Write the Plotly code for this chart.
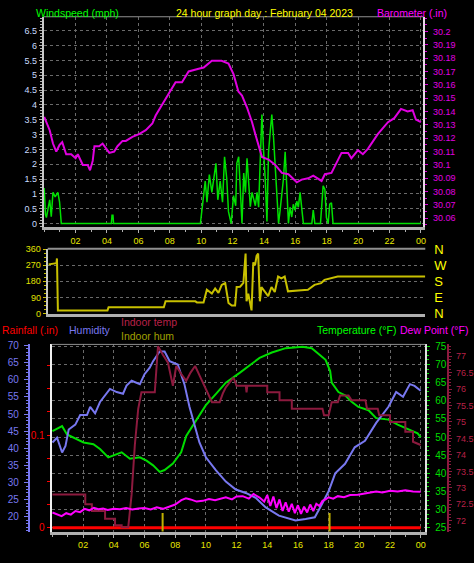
import plotly.graph_objects as go

W, H = 474, 563
def fx(X):
    return X / W
def fy(Y):
    return 1 - Y / H

FONT = "Liberation Sans, Arial, sans-serif"

# ---------------- data ----------------
hour_ticks = [2, 4, 6, 8, 10, 12, 14, 16, 18, 20, 22, 24]
hour_labels = ["02", "04", "06", "08", "10", "12", "14", "16", "18", "20", "22", "00"]

wind_ticks = [0, 0.5, 1, 1.5, 2, 2.5, 3, 3.5, 4, 4.5, 5, 5.5, 6, 6.5]
wind_labels = ["0", "0.5", "1", "1.5", "2", "2.5", "3", "3.5", "4", "4.5", "5", "5.5", "6", "6.5"]
baro_ticks = [30.06, 30.07, 30.08, 30.09, 30.10, 30.11, 30.12, 30.13, 30.14, 30.15,
              30.16, 30.17, 30.18, 30.19, 30.20]
baro_labels = ["30.06", "30.07", "30.08", "30.09", "30.1", "30.11", "30.12", "30.13", "30.14",
               "30.15", "30.16", "30.17", "30.18", "30.19", "30.2"]
dir_ticks = [0, 90, 180, 270, 360]
dir_labels = ["N", "E", "S", "W", "N"]
hum_ticks = [20, 25, 30, 35, 40, 45, 50, 55, 60, 65, 70]
temp_ticks = [25, 30, 35, 40, 45, 50, 55, 60, 65, 70, 75]
indoor_ticks = [72, 72.5, 73, 73.5, 74, 74.5, 75, 75.5, 76, 76.5, 77]
indoor_labels = ["72", "72.5", "73", "73.5", "74", "74.5", "75", "75.5", "76", "76.5", "77"]
rain_ticks = [0, 0.1, 0.2]

baro_hours = [0.0, 0.35, 0.56, 0.77, 0.98, 1.15, 1.4, 1.72, 2.0, 2.14,
              2.46, 2.77, 2.92, 3.09, 3.2, 3.5, 3.72, 3.94, 4.15, 4.46,
              4.67, 4.99, 5.2, 5.62, 6.04, 6.47, 6.89, 7.1, 7.52, 7.94,
              8.37, 8.78, 9.2, 9.84, 10.16, 10.68, 11.0, 11.3, 11.74, 12.06,
              12.37, 12.6, 12.92, 13.24, 13.45, 13.87, 14.29, 14.72, 15.14, 15.56,
              16.09, 16.4, 16.82, 17.14, 17.67, 17.88, 18.3, 18.94, 19.36, 19.57,
              19.99, 20.3, 20.62, 21.25, 21.9, 22.3, 22.73, 23.15, 23.47, 23.68,
              24.0]
baro_inhg = [30.136, 30.126, 30.116, 30.110, 30.115, 30.117, 30.108, 30.108, 30.105, 30.108,
             30.100, 30.100, 30.096, 30.103, 30.114, 30.114, 30.116, 30.112, 30.109, 30.110,
             30.114, 30.118, 30.118, 30.121, 30.123, 30.126, 30.131, 30.137, 30.145, 30.153,
             30.162, 30.162, 30.170, 30.172, 30.173, 30.178, 30.178, 30.178, 30.176, 30.168,
             30.155, 30.152, 30.143, 30.132, 30.123, 30.106, 30.104, 30.100, 30.094, 30.093,
             30.087, 30.089, 30.090, 30.092, 30.088, 30.093, 30.094, 30.109, 30.109, 30.105,
             30.111, 30.108, 30.112, 30.123, 30.132, 30.135, 30.142, 30.140, 30.141, 30.134,
             30.132]

wind_hours = [0.0, 0.08, 0.14, 0.24, 0.35, 0.45, 0.56, 0.7, 0.87, 0.98,
              1.09, 4.28, 4.32, 4.38, 4.42, 9.95, 10.16, 10.26, 10.37, 10.52,
              10.68, 10.79, 10.94, 11.06, 11.21, 11.36, 11.49, 11.63, 11.74, 11.91,
              12.06, 12.2, 12.27, 12.39, 12.5, 12.6, 12.71, 12.82, 12.92, 13.03,
              13.13, 13.24, 13.34, 13.45, 13.56, 13.66, 13.77, 13.87, 13.98, 14.08,
              14.19, 14.29, 14.4, 14.5, 14.61, 14.72, 14.82, 14.93, 15.03, 15.14,
              15.24, 15.35, 15.46, 15.56, 15.66, 15.77, 15.87, 15.98, 16.09, 16.19,
              16.3, 16.4, 16.51, 17.05, 17.14, 17.24, 17.6, 17.66, 17.77, 17.88,
              17.98, 18.09, 18.19, 18.3, 18.4, 24.0]
wind_mph = [1.2, 0.3, 0.2, 0.45, 0.8, 0.23, 1.05, 0.9, 1.05, 0.72,
            0.0, 0.0, 0.28, 0.28, 0.0, 0.0, 0.94, 1.43, 0.72, 1.65,
            1.05, 1.5, 2.03, 0.8, 1.43, 0.72, 2.25, 1.5, 0.4, 0.0,
            0.94, 0.6, 2.03, 2.25, 1.05, 0.0, 1.7, 1.05, 2.2, 1.5,
            0.57, 1.05, 0.85, 0.6, 1.05, 0.55, 2.25, 3.67, 2.4, 1.5,
            0.07, 2.4, 3.1, 3.67, 2.9, 1.8, 1.2, 0.0, 0.45, 0.97,
            1.5, 2.42, 1.2, 0.0, 0.55, 0.22, 0.65, 0.45, 0.75, 0.55,
            1.05, 0.45, 0.0, 0.0, 0.45, 0.0, 0.0, 0.45, 1.27, 1.15,
            0.2, 0.0, 0.65, 0.7, 0.0, 0.0]

dir_hours = [0.0, 0.38, 0.5, 0.53, 0.59, 3.75, 3.82, 7.34, 7.45, 9.35,
             9.45, 9.87, 10.08, 10.4, 10.61, 10.82, 11.03, 11.25, 11.46, 11.67,
             11.88, 11.98, 12.2, 12.41, 12.55, 12.61, 12.72, 12.93, 13.04, 13.15,
             13.25, 13.35, 13.46, 13.56, 13.78, 13.99, 14.2, 14.41, 14.62, 14.83,
             15.04, 15.25, 16.1, 16.52, 16.94, 17.36, 17.58, 17.99, 18.42, 24.0]
dir_deg = [275, 280, 282, 308, 17, 17, 35, 35, 68, 68,
           62, 62, 133, 111, 140, 115, 160, 170, 59, 44,
           44, 148, 150, 171, 336, 68, 110, 17, 286, 270,
           322, 336, 68, 148, 120, 97, 148, 120, 207, 197,
           207, 124, 130, 133, 160, 170, 188, 197, 207, 207]

hum_hours = [0.0, 0.3, 0.63, 0.85, 1.06, 1.49, 1.81, 2.25, 2.46, 2.78,
             3.1, 3.43, 3.75, 4.19, 4.6, 4.83, 5.16, 5.7, 6.0, 6.34,
             6.56, 6.99, 7.31, 7.64, 8.17, 8.6, 8.93, 9.58, 10.0, 10.66,
             11.3, 11.95, 12.6, 13.25, 13.9, 14.76, 15.84, 16.5, 17.1, 17.56,
             18.0, 18.43, 19.07, 19.7, 20.37, 21.1, 21.9, 22.4, 22.85, 23.3,
             23.6, 24.0]
hum_pct = [41.7, 43.1, 38.8, 40.7, 45.5, 46.9, 49.7, 49.7, 52.1, 50.2,
           53.5, 55.4, 57.3, 56.4, 55.9, 58.3, 59.7, 58.7, 61.6, 63.5,
           65.4, 68.2, 68.2, 65.4, 64.4, 58.7, 52.1, 41.7, 37.4, 33.6,
           30.3, 28.0, 27.0, 25.6, 22.8, 20.4, 19.0, 19.4, 19.9, 23.7,
           27.5, 32.7, 35.5, 40.3, 42.2, 47.4, 52.1, 56.4, 55.0, 58.7,
           58.2, 56.8]

temp_hours = [0.0, 0.63, 0.95, 1.6, 2.03, 2.67, 3.1, 3.64, 4.19, 4.51,
              5.05, 5.7, 6.13, 6.56, 6.99, 7.31, 7.85, 8.39, 8.72, 9.37,
              10.0, 10.66, 11.3, 12.2, 13.5, 14.3, 15.2, 16.3, 16.9, 17.8,
              18.1, 18.2, 18.64, 19.07, 19.5, 19.94, 20.6, 21.1, 21.9, 22.5,
              23.2, 23.8, 24.0]
temp_f = [51.6, 53.0, 50.7, 49.4, 48.5, 48.0, 46.7, 44.4, 45.3, 45.8,
          44.0, 44.4, 43.5, 42.2, 40.4, 40.9, 42.7, 45.8, 50.3, 54.8,
          58.8, 61.9, 65.0, 67.7, 71.8, 73.3, 74.5, 74.9, 74.5, 71.3,
          68.2, 65.0, 62.4, 61.5, 59.7, 58.3, 57.4, 55.2, 54.8, 53.4,
          52.1, 51.0, 50.0]

dew_hours = [0.0, 0.3, 0.6, 0.9, 1.2, 1.5, 1.8, 2.1, 2.4, 2.7,
             3.0, 3.3, 3.6, 4.0, 4.4, 4.8, 5.2, 5.6, 6.0, 6.4,
             6.8, 7.2, 7.6, 8.0, 8.4, 8.7, 9.0, 9.4, 9.8, 10.2,
             10.6, 10.9, 11.3, 11.7, 12.0, 12.4, 12.8, 13.1, 13.5, 13.8,
             14.0, 14.2, 14.4, 14.6, 14.8, 15.0, 15.2, 15.4, 15.6, 15.8,
             16.0, 16.2, 16.4, 16.6, 16.8, 17.0, 17.2, 17.4, 17.6, 17.8,
             18.0, 18.3, 18.6, 19.0, 19.4, 19.9, 20.3, 20.8, 21.1, 21.5,
             22.0, 22.5, 23.0, 23.5, 24.0]
dew_f = [29.2, 28.6, 28.2, 29.0, 28.6, 29.6, 29.3, 30.2, 29.8, 30.5,
         30.1, 30.3, 29.9, 30.2, 30.1, 30.4, 30.0, 30.3, 30.4, 30.0,
         30.6, 30.2, 30.8, 31.4, 32.6, 33.1, 32.8, 32.2, 32.4, 32.9,
         32.6, 33.0, 33.4, 32.8, 33.6, 33.7, 33.0, 34.3, 33.3, 32.2,
         34.0, 31.0, 33.6, 30.4, 32.8, 29.6, 32.0, 29.4, 31.6, 29.0,
         31.2, 28.8, 30.8, 29.2, 31.4, 29.6, 31.6, 31.0, 32.4, 32.8,
         33.4, 33.0, 33.7, 33.4, 34.0, 34.1, 34.4, 34.6, 35.0, 34.7,
         35.2, 35.0, 35.3, 35.0, 34.9]

indoor_hours = [0.0, 2.14, 2.14, 2.57, 2.57, 3.43, 3.43, 4.08, 4.08, 4.51,
                4.51, 4.94, 5.16, 5.37, 5.59, 5.8, 6.67, 6.88, 7.2, 7.53,
                7.85, 8.07, 8.4, 8.72, 9.0, 9.3, 9.6, 10.2, 10.4, 10.9,
                11.1, 11.3, 11.6, 11.8, 12.0, 12.6, 12.65, 12.7, 14.0, 14.0,
                14.8, 14.8, 15.6, 15.6, 17.6, 17.7, 18.0, 18.2, 18.6, 18.75,
                19.3, 19.5, 20.4, 20.5, 21.2, 21.3, 22.0, 22.0, 23.0, 23.0,
                23.5, 23.5, 24.0]
indoor_f = [72.8, 72.8, 72.5, 72.5, 72.3, 72.3, 72.06, 72.06, 71.86, 71.86,
            71.8, 71.8, 72.8, 74.3, 75.4, 75.9, 75.9, 77.3, 77.04, 76.8,
            76.1, 76.7, 76.45, 76.25, 76.5, 76.7, 76.4, 75.76, 75.6, 75.6,
            75.86, 76.05, 76.25, 76.35, 76.1, 76.1, 75.9, 76.1, 76.1, 75.9,
            75.9, 75.66, 75.66, 75.4, 75.4, 75.2, 75.2, 75.6, 75.6, 75.8,
            75.8, 75.66, 75.66, 75.4, 75.4, 75.2, 75.2, 75.0, 75.0, 74.7,
            74.7, 74.4, 74.3]

rain_hours = [0.0, 24.0]
rain_in = [0.0, 0.0]

sun_events = [7.18, 18.06]  # sunrise / sunset markers (hours)

# ---------------- colours ----------------
C_WIND = "#00e000"
C_BARO = "#e000e0"
C_YEL = "#ffff00"
C_DIR = "#c8c000"
C_HUM = "#7878f0"
C_IN = "#8c1a3e"
C_INTXT = "#b82048"
C_INHUM = "#a0a000"
C_TEMP = "#00dd00"
C_DEW = "#ff00ff"
C_RAIN = "#ff0000"
C_GRID = "#6a6a6a"
C_AX = "#b0b0b0"

fig = go.Figure()

# top panel
fig.add_trace(go.Scatter(x=baro_hours, y=baro_inhg, xaxis="x", yaxis="y2", mode="lines",
                         line=dict(color=C_BARO, width=2)))
fig.add_trace(go.Scatter(x=wind_hours, y=wind_mph, xaxis="x", yaxis="y", mode="lines",
                         line=dict(color=C_WIND, width=1.5)))
# middle panel
fig.add_trace(go.Scatter(x=dir_hours, y=dir_deg, xaxis="x2", yaxis="y3", mode="lines",
                         line=dict(color=C_DIR, width=2)))
fig.add_trace(go.Scatter(x=dir_hours, y=dir_deg, xaxis="x2", yaxis="y4", mode="lines",
                         line=dict(color=C_DIR, width=0), opacity=0, hoverinfo="skip"))
# bottom panel
fig.add_trace(go.Scatter(x=temp_hours, y=temp_f, xaxis="x3", yaxis="y5", mode="lines",
                         line=dict(color=C_TEMP, width=2)))
fig.add_trace(go.Scatter(x=hum_hours, y=hum_pct, xaxis="x3", yaxis="y6", mode="lines",
                         line=dict(color=C_HUM, width=2)))
fig.add_trace(go.Scatter(x=rain_hours, y=rain_in, xaxis="x3", yaxis="y7", mode="lines",
                         line=dict(color=C_RAIN, width=3)))
fig.add_trace(go.Scatter(x=indoor_hours, y=indoor_f, xaxis="x3", yaxis="y8", mode="lines",
                         line=dict(color=C_IN, width=2)))
fig.add_trace(go.Scatter(x=dew_hours, y=dew_f, xaxis="x3", yaxis="y9", mode="lines",
                         line=dict(color=C_DEW, width=2)))

tickf = lambda c, s=9: dict(family=FONT, size=s, color=c)

x_common = dict(tickmode="array", tickvals=hour_ticks, ticktext=hour_labels,
                tickfont=tickf("#e8e800"), ticks="outside", ticklen=3, tickcolor=C_AX,
                showline=True, linecolor=C_AX, linewidth=3, zeroline=False,
                minor=dict(tickmode="linear", tick0=0, dtick=1, ticks="outside",
                           ticklen=2, tickcolor=C_AX, showgrid=False))

temp_lo, temp_hi = 23.92, 75.54

fig.update_layout(
    width=W, height=H, autosize=False,
    margin=dict(l=0, r=0, t=0, b=0),
    paper_bgcolor="black", plot_bgcolor="black",
    showlegend=False, hovermode=False,
    font=dict(family=FONT, color="white"),
    xaxis=dict(domain=[fx(44), fx(426)], anchor="y", range=[-0.03, 24.15],
               showgrid=True, gridcolor=C_GRID, griddash="dot", gridwidth=1, **x_common),
    yaxis=dict(domain=[fy(226), fy(10)], anchor="x", range=[-0.13, 6.97],
               tickmode="array", tickvals=wind_ticks, ticktext=wind_labels,
               tickfont=tickf("#c8dcff"), ticks="outside", ticklen=3, tickcolor=C_AX,
               showline=True, linecolor="#c8c8c8", linewidth=2, zeroline=False,
               showgrid=True, gridcolor=C_GRID, griddash="dot", gridwidth=1,
               minor=dict(tickmode="linear", tick0=0, dtick=0.1, ticks="outside",
                          ticklen=2, tickcolor=C_AX, showgrid=False)),
    yaxis2=dict(overlaying="y", side="right", anchor="x", range=[30.0532, 30.211],
                tickmode="array", tickvals=baro_ticks, ticktext=baro_labels,
                tickfont=tickf(C_BARO), ticks="outside", ticklen=3, tickcolor=C_BARO,
                showline=True, linecolor="#e8d8e8", linewidth=2, showgrid=False,
                zeroline=False, ticklabelstandoff=3,
                minor=dict(tickmode="linear", tick0=30.0, dtick=0.005, ticks="outside",
                           ticklen=2, tickcolor=C_BARO, showgrid=False)),
    xaxis2=dict(domain=[fx(48), fx(428)], anchor="y3", range=[-0.06, 24.0],
                showticklabels=False, ticks="", showgrid=False, zeroline=False,
                showline=True, linecolor=C_AX, linewidth=3),
    yaxis3=dict(domain=[fy(315), fy(248)], anchor="x2", range=[-4, 362],
                tickmode="array", tickvals=dir_ticks,
                tickfont=tickf("#e0e000"), ticks="outside", ticklen=3, tickcolor="#c8c000",
                showline=True, linecolor="#c8c8c8", linewidth=2, zeroline=False,
                showgrid=True, gridcolor=C_GRID, griddash="dot", gridwidth=1,
                minor=dict(tickmode="linear", tick0=0, dtick=22.5, ticks="outside",
                           ticklen=2, tickcolor="#c8c000", showgrid=False)),
    yaxis4=dict(overlaying="y3", side="right", anchor="free", position=fx(436),
                range=[-4, 362], tickmode="array", tickvals=dir_ticks, ticktext=dir_labels,
                tickfont=tickf(C_YEL, 13), ticks="", showline=False, showgrid=False,
                zeroline=False),
    xaxis3=dict(domain=[fx(52), fx(428)], anchor="y5", range=[-0.05, 24.3],
                showgrid=True, gridcolor=C_GRID, griddash="dot", gridwidth=1, **x_common),
    yaxis5=dict(domain=[fy(538), fy(346)], anchor="x3", side="right",
                range=[temp_lo, temp_hi], tickmode="array", tickvals=temp_ticks,
                tickfont=tickf(C_TEMP, 10), ticks="outside", ticklen=3, tickcolor=C_TEMP,
                showline=True, linecolor="#e0e0e0", linewidth=2, zeroline=False,
                showgrid=True, gridcolor=C_GRID, griddash="dot", gridwidth=1,
                ticklabelstandoff=3,
                minor=dict(tickmode="linear", tick0=0, dtick=1.25, ticks="outside",
                           ticklen=2, tickcolor=C_TEMP, showgrid=False)),
    yaxis6=dict(overlaying="y5", side="left", anchor="free", position=fx(29),
                range=[15.74, 70.28], tickmode="array", tickvals=hum_ticks,
                tickfont=tickf(C_HUM, 10), ticks="outside", ticklen=4, tickcolor=C_HUM,
                showline=True, linecolor=C_HUM, linewidth=2, showgrid=False,
                zeroline=False, ticklabelstandoff=3,
                minor=dict(tickmode="linear", tick0=0, dtick=1, ticks="outside",
                           ticklen=2, tickcolor=C_HUM, showgrid=False)),
    yaxis7=dict(overlaying="y5", side="left", anchor="x3", range=[-0.0042, 0.1979],
                tickmode="array", tickvals=rain_ticks, tickfont=tickf(C_RAIN, 10),
                ticks="outside", ticklen=3, tickcolor=C_RAIN,
                showline=True, linecolor="#f0f0f0", linewidth=2, showgrid=False,
                zeroline=False,
                minor=dict(tickmode="linear", tick0=0, dtick=0.025, ticks="outside",
                           ticklen=3, tickcolor=C_RAIN, showgrid=False)),
    yaxis8=dict(overlaying="y5", side="right", anchor="free", position=fx(451),
                range=[71.67, 77.355], tickmode="array", tickvals=indoor_ticks,
                ticktext=indoor_labels, tickfont=tickf(C_INTXT, 9),
                ticks="outside", ticklen=3, tickcolor=C_IN,
                showline=True, linecolor=C_IN, linewidth=2, showgrid=False,
                zeroline=False, ticklabelstandoff=2,
                minor=dict(tickmode="linear", tick0=0, dtick=0.1, ticks="outside",
                           ticklen=2, tickcolor=C_IN, showgrid=False)),
    yaxis9=dict(overlaying="y5", range=[temp_lo, temp_hi], visible=False),
)

# panel top borders
shapes = [
    dict(type="line", xref="paper", yref="paper", x0=fx(44), x1=fx(426), y0=fy(10), y1=fy(10),
         line=dict(color="#909090", width=1)),
    dict(type="line", xref="paper", yref="paper", x0=fx(48), x1=fx(428), y0=fy(248), y1=fy(248),
         line=dict(color="#909090", width=2)),
    dict(type="line", xref="paper", yref="paper", x0=fx(52), x1=fx(428), y0=fy(346), y1=fy(346),
         line=dict(color="#909090", width=1)),
]
for h in sun_events:
    shapes.append(dict(type="line", xref="x3", yref="paper", x0=h, x1=h, y0=fy(538), y1=fy(519),
                       line=dict(color="#c0b000", width=2)))
fig.update_layout(shapes=shapes)

def label(text, X, Y, color, size=10.5):
    fig.add_annotation(text=text, x=fx(X), y=fy(Y), xref="paper", yref="paper",
                       xanchor="left", yanchor="middle", showarrow=False,
                       font=dict(family=FONT, size=size, color=color))

label("Windspeed (mph)", 34, 6, "#00ff00")
label("24 hour graph day : February 04 2023", 175, 6, C_YEL)
label("Barometer (.in)", 377, 6, C_DEW)
label("Rainfall (.in)", 0, 331, C_RAIN)
label("Humidity", 67, 331, C_HUM)
label("Indoor temp", 120, 323, C_INTXT)
label("Indoor hum", 120, 337, C_INHUM)
label("Temperature (°F)", 317, 331, "#00ff00")
label("Dew Point (°F)", 401, 331, C_DEW)

fig.write_html(
    "out.html",
    config={"displayModeBar": False, "staticPlot": True},
    post_script="document.body.style.margin='0';document.body.style.background='black';"
                "document.documentElement.style.background='black';"
                "document.body.style.overflow='hidden';",
)
